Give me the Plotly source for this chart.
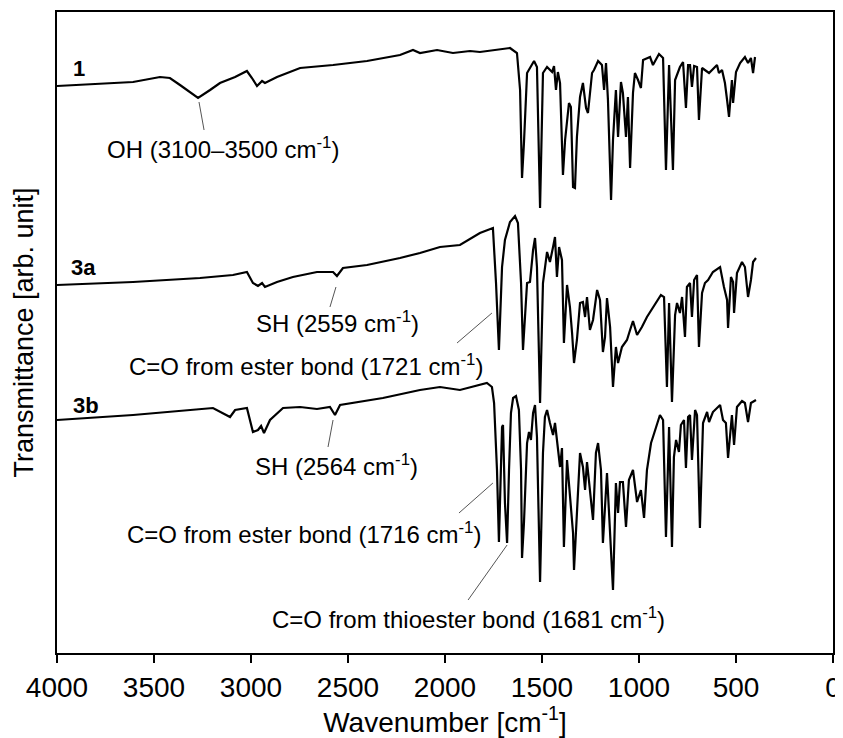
"""FT-IR spectra of 1, 3a and 3b, stacked, with band assignments."""

import plotly.graph_objects as go

FONT = "Arial, Liberation Sans, sans-serif"

# spectrum 1 (wavenumber [cm-1], transmittance [arb. unit], offset for stacking)
wn_1 = [4000, 3608, 3469, 3418, 3366, 3314, 3273, 3211, 3160, 3082, 3021, 2995, 2969, 2943, 2928, 2866,
        2747, 2577, 2402, 2232, 2165, 2129, 2041, 1959, 1871, 1820, 1665, 1629, 1613, 1603, 1593, 1577,
        1567, 1541, 1526, 1510, 1495, 1474, 1448, 1438, 1428, 1418, 1407, 1392, 1381, 1361, 1351, 1340,
        1330, 1320, 1304, 1289, 1273, 1263, 1242, 1232, 1211, 1191, 1180, 1170, 1160, 1144, 1134, 1119,
        1108, 1093, 1083, 1067, 1057, 1046, 1031, 1021, 1005, 990, 979, 943, 928, 897, 876, 861, 845, 825,
        814, 789, 773, 758, 747, 737, 727, 716, 701, 691, 675, 649, 639, 598, 588, 572, 557, 546, 536, 521,
        515, 500, 479, 454, 438, 423, 412, 402]
tr_1 = [567, 571, 576, 575, 568, 561, 555, 563, 570, 576, 582, 575, 567, 572, 570, 576,
        585, 588, 592, 598, 603, 600, 603, 600, 602, 601, 605, 600, 563, 475, 510, 580,
        583, 592, 586, 445, 580, 586, 581, 587, 563, 581, 570, 478, 513, 550, 546, 466,
        465, 516, 556, 570, 545, 540, 580, 583, 592, 588, 563, 590, 553, 453, 513, 563,
        516, 571, 560, 516, 556, 485, 560, 580, 573, 565, 593, 596, 588, 599, 595, 483, 588, 483,
        573, 586, 591, 545, 588, 588, 566, 587, 586, 533, 585, 582, 580, 588, 580, 583, 570, 553, 536, 573,
        550, 581, 590, 596, 590, 595, 580, 596]

# spectrum 3a
wn_3a = [4000, 3608, 3263, 3093, 3021, 2990, 2964, 2943, 2928, 2866, 2784, 2660, 2577, 2557, 2526, 2402,
         2232, 2129, 2026, 1923, 1820, 1784, 1753, 1737, 1722, 1706, 1691, 1665, 1639, 1624, 1608, 1598,
         1593, 1577, 1562, 1546, 1536, 1526, 1510, 1495, 1474, 1459, 1443, 1433, 1423, 1412, 1397, 1387,
         1371, 1356, 1345, 1335, 1320, 1304, 1289, 1278, 1268, 1253, 1237, 1216, 1201, 1186, 1175, 1165,
         1149, 1134, 1119, 1108, 1088, 1062, 1046, 1031, 1010, 985, 959, 928, 887, 871, 856, 845, 830, 814,
         804, 789, 778, 763, 753, 737, 727, 716, 701, 691, 675, 660, 644, 619, 582, 562, 546, 541, 526, 515,
         510, 495, 469, 454, 438, 423, 412, 397]
tr_3a = [368, 371, 375, 378, 381, 370, 367, 370, 366, 371, 376, 381, 381, 377, 385, 388,
         395, 400, 406, 408, 420, 423, 425, 370, 303, 386, 413, 431, 437, 430, 370, 303,
         320, 370, 371, 403, 415, 386, 250, 370, 401, 391, 406, 416, 376, 406, 393, 310,
         368, 346, 320, 290, 313, 350, 351, 336, 356, 323, 333, 363, 353, 301, 316, 355,
         326, 266, 306, 290, 306, 313, 323, 332, 318, 326, 336, 346, 358, 356, 266, 350, 251, 338,
         350, 340, 356, 316, 366, 370, 336, 373, 378, 306, 360, 370, 373, 381, 386, 366, 353, 325, 376, 371,
         340, 380, 391, 386, 356, 373, 391, 395]

# spectrum 3b
wn_3b = [4000, 3608, 3196, 3108, 3082, 3021, 2990, 2964, 2948, 2933, 2902, 2835, 2747, 2660, 2593, 2567,
         2541, 2438, 2320, 2129, 2026, 1923, 1784, 1758, 1747, 1732, 1722, 1706, 1701, 1691, 1680, 1670,
         1660, 1649, 1634, 1619, 1608, 1603, 1593, 1577, 1567, 1557, 1546, 1536, 1526, 1510, 1495, 1485,
         1474, 1459, 1443, 1433, 1423, 1407, 1397, 1387, 1371, 1356, 1340, 1335, 1320, 1304, 1289, 1278,
         1268, 1253, 1237, 1222, 1211, 1196, 1186, 1165, 1155, 1134, 1119, 1108, 1098, 1083, 1067, 1052,
         1031, 1010, 990, 974, 959, 938, 928, 907, 892, 876, 861, 845, 830, 820, 809, 794, 784, 768, 758,
         747, 737, 727, 711, 701, 686, 670, 649, 639, 619, 582, 567, 552, 541, 521, 510, 495, 469, 454,
         438, 423, 412, 397]
tr_3b = [233, 238, 245, 236, 243, 245, 221, 223, 227, 220, 233, 245, 246, 244, 246, 238,
         248, 251, 255, 263, 266, 263, 270, 266, 250, 183, 111, 226, 228, 150, 110, 183,
         240, 255, 257, 243, 183, 95, 130, 210, 221, 213, 240, 248, 216, 71, 200, 236,
         243, 230, 218, 230, 213, 186, 205, 106, 193, 160, 120, 83, 146, 200, 186, 163,
         191, 160, 133, 200, 210, 183, 110, 180, 143, 63, 170, 140, 171, 171, 126, 173,
         183, 151, 163, 135, 183, 210, 216, 230, 238, 233, 116, 226, 106, 196, 213, 201, 228, 233, 185,
         236, 238, 193, 243, 238, 125, 230, 241, 231, 241, 248, 233, 230, 195, 238, 208, 246, 252, 250,
         231, 250, 251, 253]

# band assignments: label, text position, leader line (peak end -> text end)
band_text = [
    "OH (3100–3500 cm<sup>-1</sup>)",
    "SH (2559 cm<sup>-1</sup>)",
    "C=O from ester bond (1721 cm<sup>-1</sup>)",
    "SH (2564 cm<sup>-1</sup>)",
    "C=O from ester bond (1716 cm<sup>-1</sup>)",
    "C=O from thioester bond (1681 cm<sup>-1</sup>)",
]
band_text_x = [3144, 2552, 2717, 2560, 2727, 1881]
band_text_y = [505, 331, 288, 188, 120, 35]
leader_x0 = [3268, 2562, 1758, 2577, 1753, 1680]
leader_y0 = [551, 366, 340, 233, 170, 108]
leader_x1 = [3242, 2593, 1938, 2603, 1928, 1881]
leader_y1 = [523, 346, 310, 206, 140, 53]

sample_names = ["1", "3a", "3b"]
sample_x = [3887, 3861, 3851]
sample_y = [585, 386, 248]

x_ticks = [0, 500, 1000, 1500, 2000, 2500, 3000, 3500, 4000]

fig = go.Figure()
for wn, tr, name in [(wn_1, tr_1, "1"), (wn_3a, tr_3a, "3a"), (wn_3b, tr_3b, "3b")]:
    fig.add_trace(go.Scatter(x=wn, y=tr, mode="lines", name=name,
                             line=dict(color="black", width=2.2)))

for i in range(len(band_text)):
    fig.add_shape(type="line", xref="x", yref="y",
                  x0=leader_x0[i], y0=leader_y0[i], x1=leader_x1[i], y1=leader_y1[i],
                  line=dict(color="#555555", width=1))
    fig.add_annotation(x=band_text_x[i], y=band_text_y[i], text=band_text[i], showarrow=False,
                       font=dict(family=FONT, size=24, color="black"))

for i in range(len(sample_names)):
    fig.add_annotation(x=sample_x[i], y=sample_y[i], text="<b>" + sample_names[i] + "</b>",
                       showarrow=False, font=dict(family=FONT, size=22, color="black"))

# the page puts the figure 8 px in from the top-left corner
fig.update_layout(
    width=835, height=730,
    margin=dict(l=49, r=10, t=4, b=85),
    plot_bgcolor="white", paper_bgcolor="white",
    showlegend=False,
    font=dict(family=FONT, color="black"),
)
fig.update_xaxes(
    range=[4000, 0], tickvals=x_ticks, ticks="outside", ticklen=8, tickwidth=2, tickcolor="black",
    tickfont=dict(size=28), showgrid=False, zeroline=False, automargin=False,
    showline=True, linecolor="black", linewidth=2, mirror=True,
    title=dict(text="Wavenumber [cm<sup>-1</sup>]", font=dict(size=28), standoff=6),
)
fig.update_yaxes(
    range=[0, 641], showticklabels=False, ticks="", showgrid=False, zeroline=False, automargin=False,
    showline=True, linecolor="black", linewidth=2, mirror=True,
    title=dict(text="Transmittance [arb. unit]", font=dict(size=27), standoff=14),
)

fig.write_html("out.html")
